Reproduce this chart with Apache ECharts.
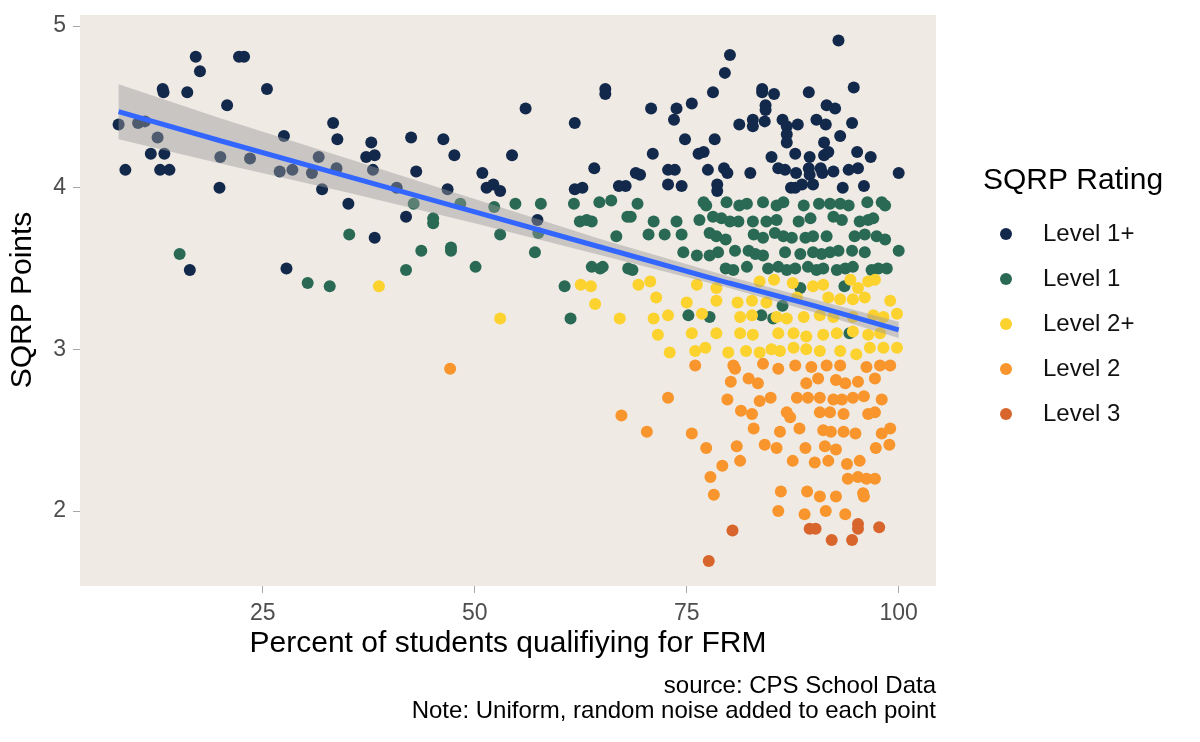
<!DOCTYPE html>
<html>
<head>
<meta charset="utf-8">
<title>SQRP Points vs FRM</title>
<script src="https://cdn.jsdelivr.net/npm/echarts@6/dist/echarts.min.js"></script>
<style>
  html, body { margin: 0; padding: 0; background: #fff; }
  #main { width: 1200px; height: 742px; }
</style>
</head>
<body>
<div id="main"></div>
<script>
// legend order
var levels = ['Level 1+', 'Level 1', 'Level 2+', 'Level 2', 'Level 3']

var xTicks = [25, 50, 75, 100]
var yTicks = [2, 3, 4, 5]

// [percent FRM, SQRP points]
var level1Plus = [
  [8.0,4.39],[8.8,4.11],[10.3,4.40],[11.1,4.41],[12.6,4.31],[11.8,4.21],[13.4,4.21],[12.9,4.11],[14.0,4.11],
  [13.2,4.61],[13.3,4.59],[16.1,4.59],[17.1,4.81],[17.6,4.72],[20.8,4.51],[20.0,4.19],[19.9,4.00],[22.2,4.81],
  [22.8,4.81],[23.5,4.18],[25.5,4.61],[27.5,4.32],[27.0,4.10],[28.5,4.11],[30.8,4.09],[31.6,4.19],[32.0,3.99],
  [33.3,4.40],[33.8,4.30],[33.7,4.12],[35.1,3.90],[37.8,4.28],[37.2,4.19],[38.2,4.20],[38.0,4.11],[38.2,3.69],
  [16.4,3.49],[27.8,3.50],
  [40.8,4.00],[42.5,4.31],[43.1,4.10],[41.9,3.82],[46.3,4.30],[47.6,4.20],[46.8,3.99],[50.9,4.09],[51.4,4.00],
  [52.2,4.02],[53.0,3.98],[54.4,4.20],[56.0,4.49],[57.4,3.80],[61.8,4.40],[65.4,4.61],[65.4,4.58],[64.1,4.12],
  [61.8,3.99],[62.7,4.00],[67.0,4.01],[67.8,4.01],
  [92.9,4.91],[80.1,4.82],[79.5,4.71],[78.1,4.59],[70.8,4.49],[73.8,4.49],[75.6,4.52],[73.5,4.42],[83.9,4.61],
  [83.9,4.59],[85.3,4.58],[89.4,4.59],[94.7,4.62],[84.3,4.51],[84.3,4.48],[91.5,4.51],[92.5,4.49],[81.2,4.39],
  [82.8,4.42],[82.8,4.38],[84.2,4.41],[86.3,4.42],[86.8,4.38],[88.1,4.39],[90.3,4.42],[91.4,4.39],[94.5,4.40],
  [74.8,4.30],[78.3,4.30],[86.8,4.33],[86.8,4.28],[93.1,4.32],[91.2,4.28],[71.0,4.21],[76.4,4.21],[77.0,4.22],
  [85.0,4.19],[87.8,4.21],[89.5,4.19],[91.2,4.20],[91.7,4.22],[95.1,4.22],[96.7,4.19],[69.0,4.09],[69.5,4.08],
  [72.8,4.11],[73.6,4.11],[77.5,4.11],[79.4,4.12],[79.8,4.09],[82.5,4.09],[85.8,4.12],[86.6,4.11],[87.9,4.09],
  [89.4,4.12],[89.5,4.08],[90.8,4.12],[91.0,4.09],[92.3,4.10],[94.1,4.11],[95.2,4.12],[100.0,4.09],[72.8,4.02],
  [74.4,4.01],[78.6,4.02],[78.6,3.98],[87.3,4.00],[88.6,4.02],[89.9,4.02],[87.8,4.00],[93.4,4.00],[95.9,4.01]
]

var level1 = [
  [15.2,3.59],[30.3,3.41],[32.9,3.39],[35.2,3.71],[42.8,3.90],[45.1,3.81],[45.1,3.78],[43.7,3.61],[41.9,3.49],
  [48.3,3.90],[47.2,3.61],[47.2,3.63],[50.1,3.51],[52.3,3.88],[53.0,3.71],[54.8,3.90],[57.8,3.90],[57.5,3.72],
  [57.1,3.60],[60.6,3.39],[61.7,3.90],[64.7,3.91],[66.1,3.92],[62.4,3.79],[63.2,3.80],[63.8,3.79],[66.7,3.70],
  [68.0,3.82],[63.8,3.51],[65.1,3.51],[64.8,3.50],[68.1,3.50],[61.3,3.19],
  [69.2,3.90],[77.0,3.91],[77.3,3.89],[79.7,3.91],[81.2,3.89],[82.1,3.90],[84.0,3.91],[85.6,3.89],[86.4,3.91],
  [88.8,3.89],[90.6,3.90],[91.9,3.90],[93.1,3.90],[94.1,3.89],[96.3,3.91],[98.0,3.91],[98.4,3.89],
  [68.4,3.82],[71.1,3.79],[73.8,3.79],[76.5,3.80],[78.1,3.82],[79.1,3.81],[80.1,3.79],[81.1,3.79],[82.8,3.79],
  [84.4,3.79],[85.6,3.80],[88.2,3.79],[89.6,3.81],[92.3,3.82],[93.3,3.80],[95.4,3.79],[96.4,3.80],[97.0,3.81],
  [70.5,3.71],[72.4,3.71],[74.4,3.71],[77.7,3.72],[78.5,3.70],[79.6,3.68],[82.9,3.71],[84.0,3.69],[85.4,3.72],
  [86.4,3.70],[87.4,3.69],[89.0,3.69],[89.9,3.70],[91.5,3.70],[94.8,3.70],[96.0,3.71],[97.4,3.70],[98.4,3.68],
  [74.6,3.60],[76.2,3.58],[77.7,3.58],[78.7,3.60],[80.7,3.61],[82.3,3.61],[83.1,3.59],[84.0,3.58],[86.6,3.60],
  [88.4,3.59],[89.9,3.60],[90.9,3.59],[91.9,3.60],[92.9,3.61],[94.5,3.61],[96.0,3.60],[100.0,3.61],
  [68.6,3.49],[79.6,3.50],[80.5,3.49],[82.1,3.51],[84.6,3.50],[85.8,3.51],[86.8,3.49],[87.8,3.50],[89.3,3.51],
  [90.3,3.49],[91.1,3.50],[92.7,3.49],[93.7,3.50],[94.6,3.51],[96.8,3.49],[97.6,3.50],[98.6,3.50],
  [88.4,3.38],[93.6,3.39],[75.2,3.21],[77.7,3.20],[83.8,3.21],[85.2,3.19],[86.3,3.27],[94.2,3.10]
]

var level2Plus = [
  [38.7,3.39],[62.5,3.40],[63.7,3.39],[64.2,3.28],[53.0,3.19],[67.1,3.19],
  [69.3,3.40],[70.7,3.42],[76.2,3.40],[78.5,3.38],[83.6,3.42],[85.3,3.43],[87.5,3.41],[89.9,3.39],[91.1,3.40],
  [94.3,3.43],[95.2,3.38],[96.4,3.42],[97.2,3.43],
  [71.4,3.32],[75.0,3.29],[78.5,3.30],[81.0,3.29],[82.7,3.30],[84.4,3.29],[88.0,3.32],[91.7,3.32],[93.1,3.31],
  [94.6,3.31],[96.0,3.32],[99.0,3.30],
  [71.1,3.19],[72.8,3.21],[76.8,3.22],[81.3,3.20],[82.7,3.21],[85.6,3.20],[86.8,3.19],[88.8,3.20],[90.7,3.21],
  [92.3,3.20],[94.6,3.20],[97.0,3.21],[98.2,3.20],[99.8,3.22],
  [71.6,3.09],[75.6,3.10],[78.5,3.10],[81.3,3.10],[82.8,3.09],[85.8,3.10],[87.6,3.10],[89.1,3.08],[91.1,3.09],
  [92.7,3.10],[94.6,3.11],[96.4,3.09],[97.8,3.10],
  [73.0,2.98],[76.0,2.99],[77.2,3.01],[79.9,2.98],[82.0,2.99],[83.6,2.98],[85.0,3.00],[86.0,2.99],[87.6,3.01],
  [89.1,3.00],[90.7,2.99],[93.1,2.99],[95.0,2.97],[96.6,3.01],[98.2,3.01],[99.8,3.01]
]

var level2 = [
  [47.1,2.88],[67.3,2.59],
  [76.0,2.90],[80.5,2.90],[80.7,2.88],[84.0,2.91],[85.8,2.88],[87.8,2.90],[89.7,2.89],[91.5,2.90],[93.1,2.90],
  [96.2,2.89],[97.8,2.90],[99.0,2.90],
  [80.2,2.80],[82.3,2.82],[83.4,2.79],[89.1,2.79],[90.5,2.82],[92.6,2.81],[93.7,2.79],[95.2,2.80],[97.2,2.82],
  [72.8,2.70],[79.8,2.69],[83.6,2.68],[84.9,2.70],[88.0,2.70],[89.3,2.70],[90.7,2.70],[92.3,2.69],[93.3,2.69],
  [94.6,2.70],[95.9,2.71],[98.0,2.69],
  [81.4,2.62],[82.7,2.60],[86.8,2.61],[87.2,2.58],[90.7,2.61],[91.9,2.61],[93.5,2.60],[96.4,2.60],[97.2,2.61],
  [70.3,2.49],[75.6,2.48],[82.9,2.51],[86.0,2.49],[88.3,2.51],[91.1,2.50],[92.0,2.49],[93.5,2.49],[94.9,2.48],
  [98.0,2.48],[99.0,2.51],
  [77.3,2.39],[80.9,2.40],[84.2,2.41],[85.6,2.39],[89.0,2.39],[91.3,2.40],[92.6,2.38],[97.3,2.39],[98.9,2.41],
  [79.2,2.28],[81.3,2.31],[87.5,2.31],[90.1,2.30],[91.7,2.31],[93.9,2.29],[95.4,2.31],
  [77.8,2.21],[94.0,2.20],[95.2,2.21],[96.2,2.20],[97.2,2.20],
  [78.2,2.10],[86.1,2.12],[89.2,2.12],[90.7,2.09],[92.6,2.09],[95.8,2.11],[95.9,2.09],
  [85.8,2.00],[88.9,1.98],[91.4,2.00],[93.7,1.98]
]

var level3 = [
  [80.4,1.88],[89.5,1.89],[90.2,1.89],[95.2,1.92],[95.2,1.89],[97.7,1.90],[92.1,1.82],[94.5,1.82],[77.6,1.69]
]

// linear fit and its confidence band, read at a few x positions
var fitX = [8, 20, 35, 50, 65, 80, 90, 100]
var fitY = [4.47, 4.29, 4.07, 3.85, 3.63, 3.41, 3.27, 3.12]
var bandLow = [4.30, 4.15, 3.97, 3.78, 3.58, 3.38, 3.23, 3.07]
var bandHigh = [4.64, 4.43, 4.18, 3.93, 3.68, 3.45, 3.31, 3.17]

var levelData = [level1Plus, level1, level2Plus, level2, level3]
var levelColors = ['#13294B', '#2A6A55', '#FCD22F', '#F8952C', '#D7652C']

var font = '"Liberation Sans", Arial, Helvetica, sans-serif'

var myChart = echarts.init(document.getElementById('main'))

var series = levels.map(function (name, i) {
  return {
    name: name,
    type: 'scatter',
    data: levelData[i],
    symbol: 'circle',
    symbolSize: 12,
    itemStyle: { color: levelColors[i], opacity: 1 },
    z: 2
  }
})

// grey confidence band drawn as one polygon over the points
series.push({
  name: 'band',
  type: 'custom',
  data: [[fitX[0], fitY[0]]],
  z: 3,
  silent: true,
  renderItem: function (params, api) {
    var pts = []
    for (var i = 0; i < fitX.length; i++) pts.push(api.coord([fitX[i], bandHigh[i]]))
    for (var j = fitX.length - 1; j >= 0; j--) pts.push(api.coord([fitX[j], bandLow[j]]))
    return {
      type: 'polygon',
      shape: { points: pts },
      style: { fill: 'rgba(153,153,153,0.45)', stroke: null }
    }
  }
})

series.push({
  name: 'fit',
  type: 'line',
  data: fitX.map(function (x, i) { return [x, fitY[i]] }),
  showSymbol: false,
  silent: true,
  lineStyle: { color: '#3366FF', width: 5 },
  z: 4
})

var option = {
  backgroundColor: '#fff',
  animation: false,
  textStyle: { fontFamily: font },
  grid: {
    left: 80,
    top: 15,
    width: 856,
    height: 571,
    show: true,
    backgroundColor: '#EFEAE4',
    borderWidth: 0
  },
  xAxis: {
    type: 'value',
    min: 3.45,
    max: 104.4,
    axisLine: { show: false },
    splitLine: { show: false },
    axisTick: { show: true, length: 7, customValues: xTicks, lineStyle: { color: '#A8A8A8', width: 1 } },
    axisLabel: { customValues: xTicks, margin: 16, fontSize: 23, color: '#4D4D4D', fontFamily: font }
  },
  yAxis: {
    type: 'value',
    min: 1.536,
    max: 5.068,
    axisLine: { show: false },
    splitLine: { show: false },
    axisTick: { show: true, length: 7, customValues: yTicks, lineStyle: { color: '#A8A8A8', width: 1 } },
    axisLabel: { customValues: yTicks, margin: 14, fontSize: 23, color: '#4D4D4D', fontFamily: font }
  },
  legend: {
    data: levels,
    orient: 'vertical',
    left: 1000,
    top: 219,
    padding: 0,
    icon: 'circle',
    itemWidth: 64,
    itemHeight: 12,
    itemGap: 15,
    textStyle: { fontSize: 24, color: '#111', fontFamily: font, lineHeight: 30 }
  },
  graphic: [
    {
      type: 'text', left: 983, top: 166,
      style: { text: 'SQRP Rating', font: '30px ' + font, fill: '#000' }
    },
    {
      type: 'text', x: 508, y: 644,
      style: { text: 'Percent of students qualifiying for FRM', font: '30px ' + font, fill: '#000', align: 'center', verticalAlign: 'middle' }
    },
    {
      type: 'text', x: 23, y: 300, rotation: Math.PI / 2,
      style: { text: 'SQRP Points', font: '30px ' + font, fill: '#000', align: 'center', verticalAlign: 'middle' }
    },
    {
      type: 'text', x: 936, y: 686,
      style: { text: 'source: CPS School Data', font: '24px ' + font, fill: '#000', align: 'right', verticalAlign: 'middle' }
    },
    {
      type: 'text', x: 936, y: 711,
      style: { text: 'Note: Uniform, random noise added to each point', font: '24px ' + font, fill: '#000', align: 'right', verticalAlign: 'middle' }
    }
  ],
  series: series
}

myChart.setOption(option)
</script>
</body>
</html>
